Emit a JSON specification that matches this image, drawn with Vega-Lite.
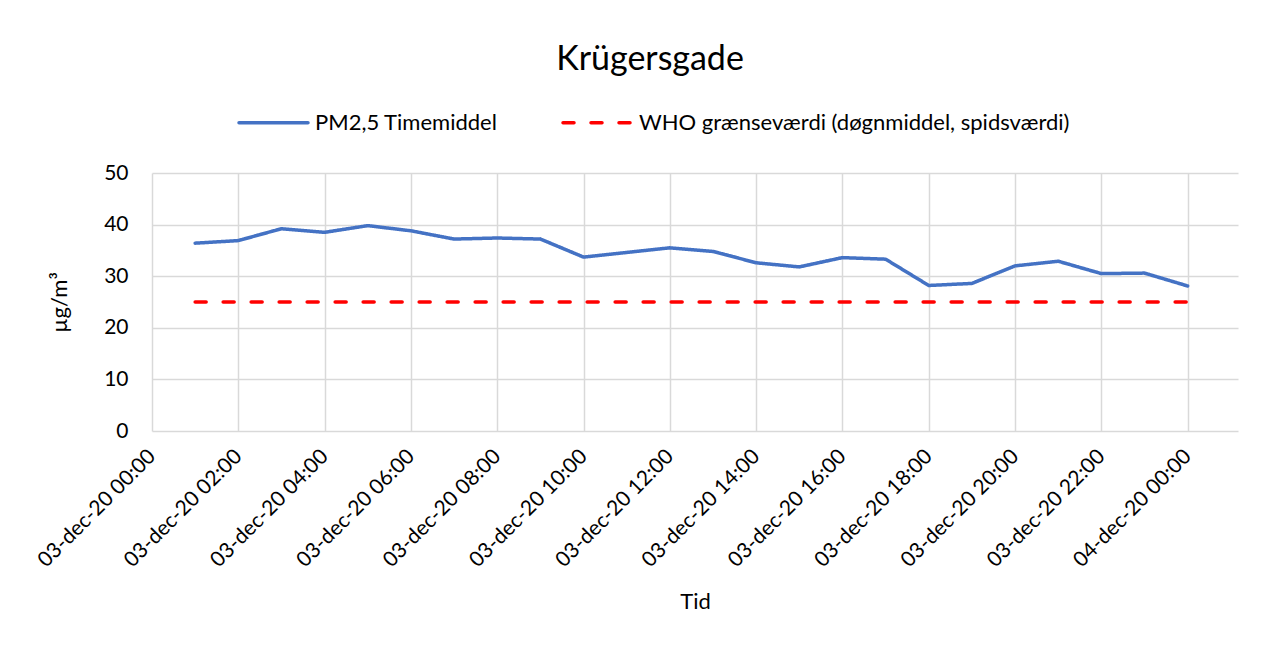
{
  "$schema": "https://vega.github.io/schema/vega-lite/v6.json",
  "autosize": {"type": "none"},
  "width": 1086,
  "height": 258,
  "padding": {"left": 152, "top": 173, "right": 39, "bottom": 215},
  "background": "white",
  "title": {
    "text": "Krügersgade",
    "font": "Lato",
    "fontSize": 34,
    "fontWeight": "normal",
    "color": "#000000",
    "anchor": "middle",
    "dx": -45,
    "offset": 9
  },
  "data": {
    "values": [
      {"time": "2020-12-03T01:00:00", "value": 36.4, "series": "PM2,5 Timemiddel"},
      {"time": "2020-12-03T02:00:00", "value": 36.9, "series": "PM2,5 Timemiddel"},
      {"time": "2020-12-03T03:00:00", "value": 39.2, "series": "PM2,5 Timemiddel"},
      {"time": "2020-12-03T04:00:00", "value": 38.5, "series": "PM2,5 Timemiddel"},
      {"time": "2020-12-03T05:00:00", "value": 39.8, "series": "PM2,5 Timemiddel"},
      {"time": "2020-12-03T06:00:00", "value": 38.8, "series": "PM2,5 Timemiddel"},
      {"time": "2020-12-03T07:00:00", "value": 37.2, "series": "PM2,5 Timemiddel"},
      {"time": "2020-12-03T08:00:00", "value": 37.4, "series": "PM2,5 Timemiddel"},
      {"time": "2020-12-03T09:00:00", "value": 37.2, "series": "PM2,5 Timemiddel"},
      {"time": "2020-12-03T10:00:00", "value": 33.7, "series": "PM2,5 Timemiddel"},
      {"time": "2020-12-03T11:00:00", "value": 34.6, "series": "PM2,5 Timemiddel"},
      {"time": "2020-12-03T12:00:00", "value": 35.5, "series": "PM2,5 Timemiddel"},
      {"time": "2020-12-03T13:00:00", "value": 34.8, "series": "PM2,5 Timemiddel"},
      {"time": "2020-12-03T14:00:00", "value": 32.6, "series": "PM2,5 Timemiddel"},
      {"time": "2020-12-03T15:00:00", "value": 31.8, "series": "PM2,5 Timemiddel"},
      {"time": "2020-12-03T16:00:00", "value": 33.6, "series": "PM2,5 Timemiddel"},
      {"time": "2020-12-03T17:00:00", "value": 33.3, "series": "PM2,5 Timemiddel"},
      {"time": "2020-12-03T18:00:00", "value": 28.2, "series": "PM2,5 Timemiddel"},
      {"time": "2020-12-03T19:00:00", "value": 28.6, "series": "PM2,5 Timemiddel"},
      {"time": "2020-12-03T20:00:00", "value": 32.0, "series": "PM2,5 Timemiddel"},
      {"time": "2020-12-03T21:00:00", "value": 32.9, "series": "PM2,5 Timemiddel"},
      {"time": "2020-12-03T22:00:00", "value": 30.5, "series": "PM2,5 Timemiddel"},
      {"time": "2020-12-03T23:00:00", "value": 30.6, "series": "PM2,5 Timemiddel"},
      {"time": "2020-12-04T00:00:00", "value": 28.1, "series": "PM2,5 Timemiddel"},
      {"time": "2020-12-03T01:00:00", "value": 25, "series": "WHO grænseværdi (døgnmiddel, spidsværdi)"},
      {"time": "2020-12-03T02:00:00", "value": 25, "series": "WHO grænseværdi (døgnmiddel, spidsværdi)"},
      {"time": "2020-12-03T03:00:00", "value": 25, "series": "WHO grænseværdi (døgnmiddel, spidsværdi)"},
      {"time": "2020-12-03T04:00:00", "value": 25, "series": "WHO grænseværdi (døgnmiddel, spidsværdi)"},
      {"time": "2020-12-03T05:00:00", "value": 25, "series": "WHO grænseværdi (døgnmiddel, spidsværdi)"},
      {"time": "2020-12-03T06:00:00", "value": 25, "series": "WHO grænseværdi (døgnmiddel, spidsværdi)"},
      {"time": "2020-12-03T07:00:00", "value": 25, "series": "WHO grænseværdi (døgnmiddel, spidsværdi)"},
      {"time": "2020-12-03T08:00:00", "value": 25, "series": "WHO grænseværdi (døgnmiddel, spidsværdi)"},
      {"time": "2020-12-03T09:00:00", "value": 25, "series": "WHO grænseværdi (døgnmiddel, spidsværdi)"},
      {"time": "2020-12-03T10:00:00", "value": 25, "series": "WHO grænseværdi (døgnmiddel, spidsværdi)"},
      {"time": "2020-12-03T11:00:00", "value": 25, "series": "WHO grænseværdi (døgnmiddel, spidsværdi)"},
      {"time": "2020-12-03T12:00:00", "value": 25, "series": "WHO grænseværdi (døgnmiddel, spidsværdi)"},
      {"time": "2020-12-03T13:00:00", "value": 25, "series": "WHO grænseværdi (døgnmiddel, spidsværdi)"},
      {"time": "2020-12-03T14:00:00", "value": 25, "series": "WHO grænseværdi (døgnmiddel, spidsværdi)"},
      {"time": "2020-12-03T15:00:00", "value": 25, "series": "WHO grænseværdi (døgnmiddel, spidsværdi)"},
      {"time": "2020-12-03T16:00:00", "value": 25, "series": "WHO grænseværdi (døgnmiddel, spidsværdi)"},
      {"time": "2020-12-03T17:00:00", "value": 25, "series": "WHO grænseværdi (døgnmiddel, spidsværdi)"},
      {"time": "2020-12-03T18:00:00", "value": 25, "series": "WHO grænseværdi (døgnmiddel, spidsværdi)"},
      {"time": "2020-12-03T19:00:00", "value": 25, "series": "WHO grænseværdi (døgnmiddel, spidsværdi)"},
      {"time": "2020-12-03T20:00:00", "value": 25, "series": "WHO grænseværdi (døgnmiddel, spidsværdi)"},
      {"time": "2020-12-03T21:00:00", "value": 25, "series": "WHO grænseværdi (døgnmiddel, spidsværdi)"},
      {"time": "2020-12-03T22:00:00", "value": 25, "series": "WHO grænseværdi (døgnmiddel, spidsværdi)"},
      {"time": "2020-12-03T23:00:00", "value": 25, "series": "WHO grænseværdi (døgnmiddel, spidsværdi)"},
      {"time": "2020-12-04T00:00:00", "value": 25, "series": "WHO grænseværdi (døgnmiddel, spidsværdi)"}
    ]
  },
  "mark": {"type": "line", "strokeWidth": 3.5, "strokeCap": "round", "strokeJoin": "round"},
  "encoding": {
    "x": {
      "field": "time",
      "type": "temporal",
      "title": "Tid",
      "scale": {
        "domain": [
          {"year": 2020, "month": 12, "date": 3, "hours": 0},
          {"year": 2020, "month": 12, "date": 4, "hours": 1, "minutes": 10}
        ]
      },
      "axis": {
        "values": [
          {"year": 2020, "month": 12, "date": 3, "hours": 0},
          {"year": 2020, "month": 12, "date": 3, "hours": 2},
          {"year": 2020, "month": 12, "date": 3, "hours": 4},
          {"year": 2020, "month": 12, "date": 3, "hours": 6},
          {"year": 2020, "month": 12, "date": 3, "hours": 8},
          {"year": 2020, "month": 12, "date": 3, "hours": 10},
          {"year": 2020, "month": 12, "date": 3, "hours": 12},
          {"year": 2020, "month": 12, "date": 3, "hours": 14},
          {"year": 2020, "month": 12, "date": 3, "hours": 16},
          {"year": 2020, "month": 12, "date": 3, "hours": 18},
          {"year": 2020, "month": 12, "date": 3, "hours": 20},
          {"year": 2020, "month": 12, "date": 3, "hours": 22},
          {"year": 2020, "month": 12, "date": 4, "hours": 0}
        ],
        "labelExpr": "timeFormat(datum.value, '%d-') + lower(timeFormat(datum.value, '%b')) + timeFormat(datum.value, '-%y %H:%M')",
        "labelAngle": -45,
        "labelAlign": "right",
        "labelBaseline": "middle",
        "labelFontSize": 21,
        "labelPadding": 22,
        "labelOverlap": false,
        "labelFlush": false,
        "titlePadding": 21
      }
    },
    "y": {
      "field": "value",
      "type": "quantitative",
      "title": "µg/m³",
      "scale": {"domain": [0, 50], "nice": false},
      "axis": {"values": [0, 10, 20, 30, 40, 50], "labelFontSize": 21, "labelPadding": 24, "titlePadding": 32}
    },
    "color": {
      "field": "series",
      "type": "nominal",
      "scale": {
        "domain": ["PM2,5 Timemiddel", "WHO grænseværdi (døgnmiddel, spidsværdi)"],
        "range": ["#4472C4", "#FF0000"]
      },
      "legend": {
        "title": null,
        "orient": "none",
        "legendX": 85,
        "legendY": -87,
        "direction": "horizontal",
        "symbolType": "stroke",
        "symbolSize": 4761,
        "symbolStrokeWidth": 3.5,
        "labelFont": "Lato",
        "labelFontSize": 22,
        "labelColor": "#000000",
        "labelOffset": 5,
        "columnPadding": 58,
        "labelLimit": 0,
        "encode": {"symbols": {"update": {"strokeCap": {"value": "round"}}}}
      }
    },
    "strokeDash": {
      "field": "series",
      "type": "nominal",
      "scale": {
        "domain": ["PM2,5 Timemiddel", "WHO grænseværdi (døgnmiddel, spidsværdi)"],
        "range": [[1, 0], [11, 17]]
      },
      "legend": {
        "title": null,
        "orient": "none",
        "legendX": 85,
        "legendY": -87,
        "direction": "horizontal",
        "symbolType": "stroke",
        "symbolSize": 4761,
        "symbolStrokeWidth": 3.5,
        "labelFont": "Lato",
        "labelFontSize": 22,
        "labelColor": "#000000",
        "labelOffset": 5,
        "columnPadding": 58,
        "labelLimit": 0,
        "encode": {"symbols": {"update": {"strokeCap": {"value": "round"}}}}
      }
    }
  },
  "config": {
    "view": {"stroke": null},
    "axis": {
      "labelFont": "Lato",
      "labelFontSize": 19,
      "labelColor": "#000000",
      "titleFont": "Lato",
      "titleFontSize": 22,
      "titleFontWeight": "normal",
      "titleColor": "#000000",
      "grid": true,
      "gridColor": "#D9D9D9",
      "gridWidth": 1.5,
      "domain": false,
      "ticks": false,
      "tickSize": 0
    }
  }
}
